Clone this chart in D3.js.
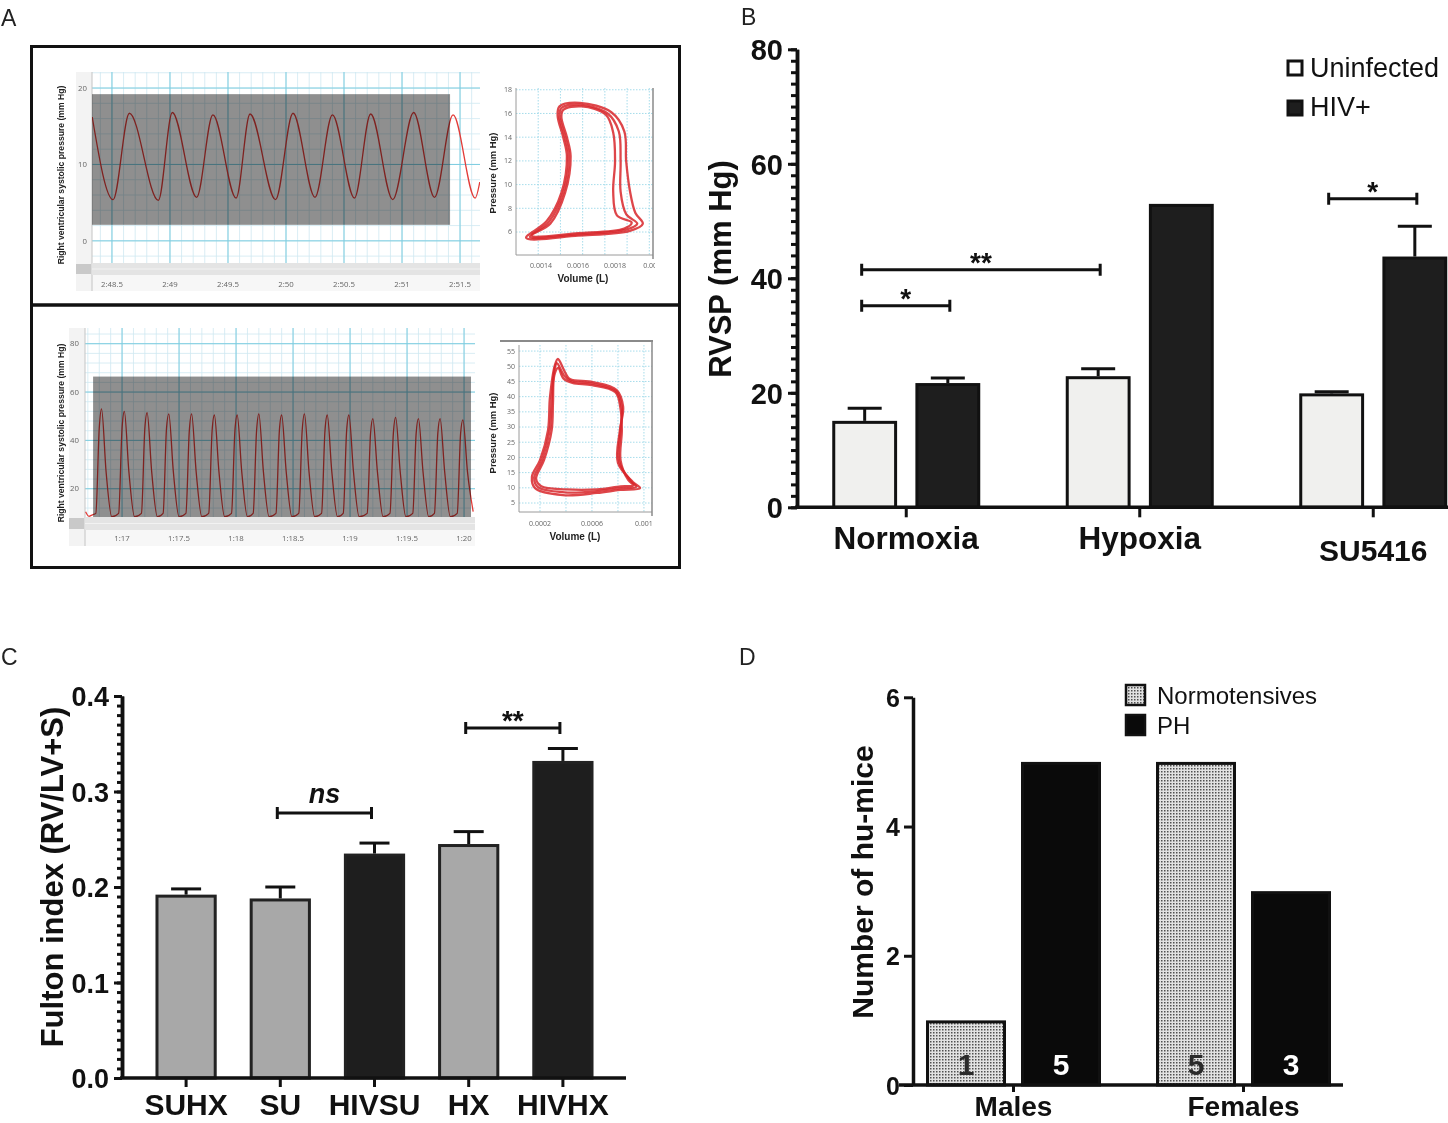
<!DOCTYPE html>
<html>
<head>
<meta charset="utf-8">
<script src="https://cdn.jsdelivr.net/npm/d3@7"></script>
<style>
    body { margin: 0; background: #fff; }
    svg { display: block; font-family: "Liberation Sans", Arial, sans-serif; }
    .bold-axis .domain { stroke: #111; stroke-width: 3.5; }
    .bold-axis line { stroke: #111; stroke-width: 3; }
    .bold-axis text { font-weight: bold; fill: #111; }
    .small { font-family: "Open Sans", "DejaVu Sans", sans-serif; fill: #666; }
</style>
</head>
<body>
<script>
// ---------- panel A : pressure traces (time s, mmHg) ----------
const topTimeTicks = [168.5, 169, 169.5, 170, 170.5, 171, 171.5];
const topPressureTicks = [0, 10, 20];
const topTrace = [
    [168.33, 16.2], [168.51, 5.4], [168.65, 16.7], [168.90, 5.3], [169.02, 16.8],
    [169.23, 5.7], [169.37, 16.5], [169.57, 5.6], [169.69, 16.6], [169.91, 5.4],
    [170.06, 16.7], [170.25, 5.7], [170.40, 16.5], [170.59, 5.6], [170.73, 16.6],
    [170.92, 5.4], [171.10, 16.8], [171.28, 5.7], [171.44, 16.5], [171.63, 5.6],
    [171.67, 7.7]
];

const bottomTimeTicks = [77, 77.5, 78, 78.5, 79, 79.5, 80];
const bottomPressureTicks = [20, 40, 60, 80];
const bottomTrace = [
    [76.68, 10.5], [76.71, 8.6], [76.74, 9.2],
    [76.77, 9.8], [76.80, 45], [76.82, 53], [76.86, 27], [76.91, 8.4],
    [76.97, 9.8], [77.00, 45], [77.02, 52], [77.06, 27], [77.11, 8.4],
    [77.17, 9.8], [77.20, 45], [77.22, 51.5], [77.26, 27], [77.31, 8.4],
    [77.36, 9.8], [77.39, 45], [77.41, 51], [77.45, 27], [77.50, 8.4],
    [77.56, 9.8], [77.59, 44], [77.61, 51], [77.65, 27], [77.70, 8.4],
    [77.76, 9.8], [77.79, 44], [77.81, 50.5], [77.85, 27], [77.90, 8.4],
    [77.96, 9.8], [77.99, 44], [78.01, 50.5], [78.05, 27], [78.10, 8.4],
    [78.15, 9.8], [78.18, 44], [78.20, 51], [78.24, 27], [78.29, 8.4],
    [78.35, 9.8], [78.38, 44], [78.40, 50.5], [78.44, 27], [78.49, 8.4],
    [78.55, 9.8], [78.58, 44], [78.60, 51], [78.64, 27], [78.69, 8.4],
    [78.75, 9.8], [78.78, 44], [78.80, 50.5], [78.84, 27], [78.89, 8.4],
    [78.94, 9.8], [78.97, 44], [78.99, 50.5], [79.03, 27], [79.08, 8.4],
    [79.15, 9.8], [79.18, 43], [79.20, 49], [79.24, 27], [79.29, 8.4],
    [79.35, 9.8], [79.38, 43], [79.40, 49.5], [79.44, 27], [79.49, 8.4],
    [79.55, 9.8], [79.58, 43], [79.60, 49], [79.64, 27], [79.69, 8.4],
    [79.74, 9.8], [79.77, 43], [79.79, 49], [79.83, 27], [79.88, 8.4],
    [79.94, 9.8], [79.97, 43], [79.99, 48.5], [80.03, 27], [80.08, 10.5]
];

// ---------- panel A : pressure-volume loops (L, mmHg) ----------
const pvTopPressureTicks = [6, 8, 10, 12, 14, 16, 18];
const pvTopVolumeTicks = [0.0014, 0.0016, 0.0018, 0.002];
const pvTopLoops = [
    [[0.00132, 5.5], [0.0016, 5.7], [0.00188, 6.1], [0.00195, 6.7], [0.00191, 7.6],
     [0.00188, 9.5], [0.00186, 12], [0.00185, 14.5], [0.00178, 16.1], [0.00161, 16.9],
     [0.0015, 16.6], [0.00149, 15.8], [0.00152, 14], [0.00154, 12.4], [0.00151, 9.3],
     [0.00143, 6.9]],
    [[0.00135, 5.7], [0.0016, 5.9], [0.00185, 6.3], [0.00189, 6.8], [0.00181, 7.4],
     [0.00179, 9.4], [0.0018, 12], [0.00179, 14.4], [0.00175, 15.9], [0.00162, 16.6],
     [0.00152, 16.3], [0.00151, 15.7], [0.00154, 14], [0.00156, 12.4], [0.00153, 9.3],
     [0.00145, 6.7]],
    [[0.00134, 5.6], [0.0016, 5.8], [0.00186, 6.2], [0.00192, 6.7], [0.00186, 7.5],
     [0.00183, 9.4], [0.00183, 12], [0.00182, 14.5], [0.00176, 16.0], [0.00161, 16.75],
     [0.00151, 16.45], [0.0015, 15.75], [0.00153, 14], [0.00155, 12.4], [0.00152, 9.3],
     [0.00144, 6.8]]
];

const pvBottomPressureTicks = [5, 10, 15, 20, 25, 30, 35, 40, 45, 50, 55];
const pvBottomVolumeTicks = [0.0002, 0.0006, 0.001];
const pvBottomLoops = [
    [[0.000338, 52.4], [0.000315, 50.4], [0.000277, 39.9], [0.000262, 29], [0.0002, 19.1],
     [0.000138, 13.6], [0.000162, 9.9], [0.000377, 7.6], [0.000638, 8.3], [0.000815, 9.3],
     [0.00097, 9.9], [0.000915, 11.9], [0.0008, 18.2], [0.000815, 29], [0.00084, 36.6],
     [0.00079, 42.2], [0.000608, 44.8], [0.00043, 45.8], [0.000392, 48.1]],
    [[0.00034, 49.5], [0.00031, 47], [0.0003, 38], [0.00029, 29], [0.00023, 19],
     [0.00017, 13], [0.00021, 10.5], [0.0004, 9.5], [0.00064, 9.5], [0.00082, 10.5],
     [0.00092, 10.8], [0.00088, 12.5], [0.00082, 19], [0.00083, 29], [0.00082, 36],
     [0.00078, 41.5], [0.0006, 43.8], [0.00045, 44.5], [0.00038, 46]],
    [[0.00033, 51], [0.00031, 48.5], [0.00029, 39], [0.000275, 29], [0.000215, 19],
     [0.000155, 13.3], [0.000185, 10.2], [0.00039, 8.5], [0.00064, 8.9], [0.00082, 9.9],
     [0.00094, 10.3], [0.0009, 12.2], [0.00081, 18.6], [0.00082, 29], [0.00083, 36.3],
     [0.000785, 41.8], [0.000604, 44.3], [0.00044, 45.1], [0.000385, 47]]
];

// ---------- panel B : RVSP ----------
const rvspGroups = ["Normoxia", "Hypoxia", "SU5416"];
const rvspSeries = ["Uninfected", "HIV+"];
const rvspUninfected = [15.1, 22.9, 19.9];
const rvspUninfectedErr = [2.2, 1.3, 0.3];
const rvspHiv = [21.7, 53.0, 43.8];
const rvspHivErr = [0.9, 0, 5.3];
const rvspTicks = [0, 20, 40, 60, 80];
const rvspBrackets = [
    { a: ["Normoxia", "Uninfected"], b: ["Normoxia", "HIV+"], y: 35.2, label: "*" },
    { a: ["Normoxia", "Uninfected"], b: ["Hypoxia", "Uninfected"], y: 41.5, label: "**" },
    { a: ["SU5416", "Uninfected"], b: ["SU5416", "HIV+"], y: 53.9, label: "*" }
];

// ---------- panel C : Fulton index ----------
const fultonGroups = ["SUHX", "SU", "HIVSU", "HX", "HIVHX"];
const fultonValues = [0.192, 0.188, 0.235, 0.245, 0.332];
const fultonErr = [0.006, 0.012, 0.011, 0.013, 0.013];
const fultonHiv = [false, false, true, false, true];
const fultonTicks = [0, 0.1, 0.2, 0.3, 0.4];
const fultonBrackets = [
    { a: "SU", b: "HIVSU", y: 0.2775, label: "ns" },
    { a: "HX", b: "HIVHX", y: 0.3665, label: "**" }
];

// ---------- panel D : hu-mice counts ----------
const sexGroups = ["Males", "Females"];
const miceSeries = ["Normotensives", "PH"];
const normotensives = [1, 5];
const ph = [5, 3];
const miceTicks = [0, 2, 4, 6];

const svg = d3.select("body").append("svg")
    .attr("width", 1448)
    .attr("height", 1123);
const defs = svg.append("defs");

// stipple fill for normotensives
const stipple = defs.append("pattern")
    .attr("id", "stipple")
    .attr("width", 3).attr("height", 3)
    .attr("patternUnits", "userSpaceOnUse");
stipple.append("rect").attr("width", 3).attr("height", 3).attr("fill", "#e2e2e2");
stipple.append("rect").attr("width", 1.5).attr("height", 1.5).attr("fill", "#505050");

// panel letters
[["A", 1, 26], ["B", 741, 25], ["C", 1, 665], ["D", 739, 665]].forEach(function (p) {
    svg.append("text").attr("x", p[1]).attr("y", p[2])
        .attr("font-size", 23).attr("fill", "#222").text(p[0]);
});

function fmtTime(t) {
    const m = Math.floor(t / 60);
    const s = +(t - m * 60).toFixed(1);
    return m + ":" + (s < 10 ? "0" : "") + (Number.isInteger(s) ? s : s.toFixed(1));
}

function drawTrace(cfg, id) {
    const g = svg.append("g");
    const x = d3.scaleLinear().domain(cfg.tDomain).range(cfg.xRange);
    const y = d3.scaleLinear().domain(cfg.pDomain).range(cfg.yRange);
    const x0 = cfg.xRange[0], x1 = cfg.xRange[1], yb = cfg.yRange[0], yt = cfg.yRange[1];

    defs.append("clipPath").attr("id", id)
        .append("rect").attr("x", x0).attr("y", yt).attr("width", x1 - x0).attr("height", yb - yt);

    // axis strips
    g.append("rect").attr("x", x0 - 16).attr("y", yt).attr("width", 16)
        .attr("height", yb - yt + cfg.scrollH + 16).attr("fill", "#f3f3f3");
    g.append("rect").attr("x", x0).attr("y", yb + cfg.scrollH).attr("width", x1 - x0)
        .attr("height", 16).attr("fill", "#f7f7f7");

    const grid = g.append("g").attr("clip-path", "url(#" + id + ")");
    grid.selectAll(".vmin").data(cfg.tMinor).join("line")
        .attr("x1", d => x(d)).attr("x2", d => x(d)).attr("y1", yt).attr("y2", yb)
        .attr("stroke", "#cfe9f1").attr("stroke-width", 0.8);
    grid.selectAll(".hmin").data(cfg.pMinor).join("line")
        .attr("y1", d => y(d)).attr("y2", d => y(d)).attr("x1", x0).attr("x2", x1)
        .attr("stroke", "#cfe9f1").attr("stroke-width", 0.8);
    grid.selectAll(".vmaj").data(cfg.tMajor).join("line")
        .attr("x1", d => x(d)).attr("x2", d => x(d)).attr("y1", yt).attr("y2", yb)
        .attr("stroke", "#7ccde0").attr("stroke-width", 1);
    grid.selectAll(".hmaj").data(cfg.pMajor).join("line")
        .attr("y1", d => y(d)).attr("y2", d => y(d)).attr("x1", x0).attr("x2", x1)
        .attr("stroke", "#7ccde0").attr("stroke-width", 1);

    g.append("line").attr("x1", x0).attr("x2", x0).attr("y1", yt).attr("y2", yb + cfg.scrollH + 16)
        .attr("stroke", "#c4c4c4");

    g.append("path").datum(cfg.trace)
        .attr("clip-path", "url(#" + id + ")")
        .attr("fill", "none").attr("stroke", "#e23c38").attr("stroke-width", 1.3)
        .attr("d", d3.line().x(d => x(d[0])).y(d => y(d[1])).curve(d3.curveMonotoneX));

    // selected region (multiplied over grid and trace)
    g.append("rect")
        .attr("x", x(cfg.sel[0])).attr("y", y(cfg.sel[3]))
        .attr("width", x(cfg.sel[1]) - x(cfg.sel[0]))
        .attr("height", y(cfg.sel[2]) - y(cfg.sel[3]))
        .attr("fill", "#8f8f8f").style("mix-blend-mode", "multiply");

    // scrollbar
    g.append("rect").attr("x", x0).attr("y", yb).attr("width", x1 - x0).attr("height", cfg.scrollH)
        .attr("fill", "#e4e4e4");
    g.append("line").attr("x1", x0).attr("x2", x1).attr("y1", yb + cfg.scrollH / 2).attr("y2", yb + cfg.scrollH / 2)
        .attr("stroke", "#f2f2f2").attr("stroke-width", 1);
    g.append("rect").attr("x", x0 - 16).attr("y", yb + 1).attr("width", 15).attr("height", cfg.scrollH - 2)
        .attr("fill", "#c9c9c9");

    g.selectAll(".ylab").data(cfg.pMajor).join("text")
        .attr("class", "small").attr("font-size", 7.8)
        .attr("x", cfg.labelX).attr("y", d => y(d)).attr("dy", "0.35em")
        .attr("text-anchor", "end").text(d => d);
    g.selectAll(".xlab").data(cfg.tMajor).join("text")
        .attr("class", "small").attr("font-size", 7.8)
        .attr("x", d => x(d)).attr("y", cfg.labelY)
        .attr("text-anchor", "middle").text(fmtTime);

    g.append("text")
        .attr("transform", "translate(" + cfg.titleX + "," + cfg.titleY + ") rotate(-90)")
        .attr("text-anchor", "middle").attr("font-size", 8.6).attr("font-weight", "bold")
        .attr("fill", "#222").text("Right ventricular systolic pressure (mm Hg)");
}

function drawPV(cfg, id) {
    const g = svg.append("g");
    const x = d3.scaleLinear().domain(cfg.vDomain).range(cfg.xRange);
    const y = d3.scaleLinear().domain(cfg.pDomain).range(cfg.yRange);
    const x0 = cfg.xRange[0], x1 = cfg.xRange[1], yb = cfg.yRange[0], yt = cfg.yRange[1];

    defs.append("clipPath").attr("id", id)
        .append("rect").attr("x", x0 - 40).attr("y", yt - 10).attr("width", x1 - x0 + 42).attr("height", yb - yt + 30);

    g.selectAll(".hg").data(cfg.pTicks).join("line")
        .attr("x1", x0).attr("x2", x1).attr("y1", d => y(d)).attr("y2", d => y(d))
        .attr("stroke", "#8fd3e6").attr("stroke-width", 0.8).attr("stroke-dasharray", "1.5,1.5");
    g.selectAll(".vg").data(cfg.vGrid).join("line")
        .attr("x1", d => x(d)).attr("x2", d => x(d)).attr("y1", yt).attr("y2", yb)
        .attr("stroke", "#8fd3e6").attr("stroke-width", 0.8).attr("stroke-dasharray", "1.5,1.5");

    g.append("path").attr("fill", "none").attr("stroke", "#9a9a9a").attr("stroke-width", 1)
        .attr("d", "M" + x0 + "," + yt + "V" + yb + "H" + x1);
    g.append("line").attr("x1", x1).attr("x2", x1).attr("y1", cfg.frameTop).attr("y2", yb + 4)
        .attr("stroke", "#8a8a8a").attr("stroke-width", 1.5);

    const line = d3.line().x(d => x(d[0])).y(d => y(d[1])).curve(d3.curveCatmullRomClosed.alpha(0.5));
    g.selectAll(".loop").data(cfg.loops).join("path")
        .attr("fill", "none").attr("stroke", "#d8262a").attr("stroke-width", 2.3)
        .attr("stroke-opacity", 0.85).attr("d", line);

    g.selectAll(".yl").data(cfg.pTicks).join("text")
        .attr("class", "small").attr("font-size", 7)
        .attr("x", x0 - 4).attr("y", d => y(d)).attr("dy", "0.35em")
        .attr("text-anchor", "end").text(d => d);
    g.append("g").attr("clip-path", "url(#" + id + ")")
        .selectAll(".xl").data(cfg.vTicks).join("text")
        .attr("class", "small").attr("font-size", 7)
        .attr("x", d => x(d)).attr("y", cfg.xLabelY)
        .attr("text-anchor", "middle").text(d => String(d));

    g.append("text")
        .attr("transform", "translate(" + cfg.pTitle[0] + "," + cfg.pTitle[1] + ") rotate(-90)")
        .attr("text-anchor", "middle").attr("font-size", 9.4).attr("font-weight", "bold")
        .attr("fill", "#222").text("Pressure (mm Hg)");
    g.append("text").attr("x", cfg.vTitle[0]).attr("y", cfg.vTitle[1])
        .attr("text-anchor", "middle").attr("font-size", 10).attr("font-weight", "bold")
        .attr("fill", "#222").text("Volume (L)");
}

// ----- panel A -----
drawTrace({
    tDomain: [168.328, 171.672], xRange: [92, 480],
    pDomain: [-2.9, 22.1], yRange: [263, 72],
    tMinor: d3.range(168.4, 171.65, 0.1), pMinor: d3.range(-2, 23, 2),
    tMajor: topTimeTicks, pMajor: topPressureTicks,
    sel: [168.328, 171.414, 2.1, 19.2], trace: topTrace,
    scrollH: 12, labelX: 87, labelY: 287, titleX: 64, titleY: 175
}, "clipTop");

drawTrace({
    tDomain: [76.675, 80.096], xRange: [85, 475],
    pDomain: [8.3, 86.5], yRange: [517, 328],
    tMinor: d3.range(76.7, 80.1, 0.1), pMinor: d3.range(12, 87, 4),
    tMajor: bottomTimeTicks, pMajor: bottomPressureTicks,
    sel: [76.746, 80.061, 8.3, 66.4], trace: bottomTrace,
    scrollH: 13, labelX: 79, labelY: 541, titleX: 64, titleY: 433
}, "clipBottom");

drawPV({
    vDomain: [0.001265, 0.002005], xRange: [516, 653],
    pDomain: [4.06, 18.15], yRange: [255, 88],
    pTicks: pvTopPressureTicks, vTicks: pvTopVolumeTicks,
    vGrid: d3.range(0.001385, 0.00199, 0.00012), loops: pvTopLoops,
    frameTop: 88, xLabelY: 268, pTitle: [496, 173], vTitle: [583, 282]
}, "clipPvTop");

drawPV({
    vDomain: [0.0000385, 0.001062], xRange: [519, 652],
    pDomain: [2.04, 57], yRange: [512, 345],
    pTicks: pvBottomPressureTicks, vTicks: pvBottomVolumeTicks,
    vGrid: [0.0002, 0.0004, 0.0006, 0.0008, 0.001], loops: pvBottomLoops,
    frameTop: 341, xLabelY: 526, pTitle: [496, 433], vTitle: [575, 540]
}, "clipPvBottom");

svg.append("line").attr("x1", 500).attr("x2", 653).attr("y1", 341).attr("y2", 341)
    .attr("stroke", "#8a8a8a").attr("stroke-width", 2);

svg.append("rect").attr("x", 31.5).attr("y", 46.5).attr("width", 648).attr("height", 258.5)
    .attr("fill", "none").attr("stroke", "#111").attr("stroke-width", 3);
svg.append("rect").attr("x", 31.5).attr("y", 305).attr("width", 648).attr("height", 262.5)
    .attr("fill", "none").attr("stroke", "#111").attr("stroke-width", 3);

// shared helpers for the bar panels
function errorBar(g, cx, yTop, yErr, half) {
    g.append("line").attr("x1", cx).attr("x2", cx).attr("y1", yTop).attr("y2", yErr)
        .attr("stroke", "#111").attr("stroke-width", 3);
    g.append("line").attr("x1", cx - half).attr("x2", cx + half).attr("y1", yErr).attr("y2", yErr)
        .attr("stroke", "#111").attr("stroke-width", 3);
}

function bracket(g, xa, xb, yy, label, size, italic, dy) {
    g.append("path").attr("fill", "none").attr("stroke", "#111").attr("stroke-width", 3)
        .attr("d", "M" + xa + "," + (yy - 6) + "V" + (yy + 6) + "M" + xa + "," + yy + "H" + xb +
            "M" + xb + "," + (yy - 6) + "V" + (yy + 6));
    g.append("text").attr("x", (xa + xb) / 2).attr("y", yy + dy)
        .attr("text-anchor", "middle").attr("font-size", size).attr("font-weight", "bold")
        .attr("font-style", italic ? "italic" : "normal").attr("fill", "#111").text(label);
}

// ----- panel B -----
const gB = svg.append("g");
const xB = d3.scaleBand().domain(rvspGroups).range([789.5, 1490]);
const xBin = d3.scaleBand().domain(rvspSeries).range([-74, 74]).paddingInner(0.22);
const yB = d3.scaleLinear().domain([0, 80]).range([507.3, 49.3]);
const rvspRows = rvspGroups.flatMap((g, i) => [
    { g: g, s: "Uninfected", v: rvspUninfected[i], e: rvspUninfectedErr[i] },
    { g: g, s: "HIV+", v: rvspHiv[i], e: rvspHivErr[i] }
]);
const cxB = (g, s) => xB(g) + xB.bandwidth() / 2 + xBin(s) + xBin.bandwidth() / 2;

rvspRows.forEach(function (d) {
    if (d.e > 0) errorBar(gB, cxB(d.g, d.s), yB(d.v), yB(d.v + d.e), 17);
});
gB.selectAll(".bar").data(rvspRows).join("rect")
    .attr("x", d => cxB(d.g, d.s) - xBin.bandwidth() / 2 + 1.5)
    .attr("width", xBin.bandwidth() - 3)
    .attr("y", d => yB(d.v) + 1.5)
    .attr("height", d => yB(0) - yB(d.v) - 1.5)
    .attr("fill", d => d.s === "Uninfected" ? "#f0f0ee" : "#1e1e1e")
    .attr("stroke", "#111").attr("stroke-width", 3);

gB.append("g").attr("class", "bold-axis").attr("transform", "translate(797,0)")
    .call(d3.axisLeft(yB).tickValues(d3.range(0, 81, 2)).tickSize(6).tickSizeOuter(0).tickFormat(""));
gB.append("g").attr("class", "bold-axis").attr("transform", "translate(797,0)")
    .call(d3.axisLeft(yB).tickValues(rvspTicks).tickSize(9).tickSizeOuter(0).tickPadding(5).tickFormat(d3.format("d")))
    .call(g => g.selectAll("text").attr("font-size", 29).attr("dy", "0.36em"));
gB.append("line").attr("x1", 795).attr("x2", 1448).attr("y1", yB(0)).attr("y2", yB(0))
    .attr("stroke", "#111").attr("stroke-width", 3.5);
gB.selectAll(".xt").data(rvspGroups).join("line")
    .attr("x1", d => xB(d) + xB.bandwidth() / 2).attr("x2", d => xB(d) + xB.bandwidth() / 2)
    .attr("y1", yB(0)).attr("y2", yB(0) + 10).attr("stroke", "#111").attr("stroke-width", 3);
gB.selectAll(".xl").data(rvspGroups).join("text")
    .attr("x", d => xB(d) + xB.bandwidth() / 2)
    .attr("y", d => d === "SU5416" ? 561 : 549)
    .attr("text-anchor", "middle").attr("font-weight", "bold")
    .attr("font-size", d => d === "SU5416" ? 30 : 31.5).attr("fill", "#111").text(d => d);
gB.append("text").attr("transform", "translate(731,269) rotate(-90)")
    .attr("text-anchor", "middle").attr("font-size", 31).attr("font-weight", "bold")
    .attr("fill", "#111").text("RVSP (mm Hg)");

rvspBrackets.forEach(function (b) {
    bracket(gB, cxB(b.a[0], b.a[1]) - 3, cxB(b.b[0], b.b[1]) + 2, yB(b.y), b.label, 28, false, 2);
});

rvspSeries.forEach(function (s, i) {
    gB.append("rect").attr("x", 1288).attr("y", 61 + i * 40).attr("width", 14).attr("height", 14)
        .attr("fill", s === "Uninfected" ? "#fff" : "#1e1e1e")
        .attr("stroke", "#111").attr("stroke-width", 3);
    gB.append("text").attr("x", 1310).attr("y", 77 + i * 39)
        .attr("font-size", 27).attr("fill", "#111").text(s);
});

// ----- panel C -----
const gC = svg.append("g");
const xC = d3.scaleBand().domain(fultonGroups).range([139, 610]).paddingInner(0.35).paddingOuter(0.175);
const yC = d3.scaleLinear().domain([0, 0.4]).range([1078, 696]);
const fultonRows = fultonGroups.map((g, i) => ({ g: g, v: fultonValues[i], e: fultonErr[i], hiv: fultonHiv[i] }));
const cxC = g => xC(g) + xC.bandwidth() / 2;

fultonRows.forEach(d => errorBar(gC, cxC(d.g), yC(d.v), yC(d.v + d.e), 15));
gC.selectAll(".bar").data(fultonRows).join("rect")
    .attr("x", d => xC(d.g) + 1.5).attr("width", xC.bandwidth() - 3)
    .attr("y", d => yC(d.v) + 1.5).attr("height", d => yC(0) - yC(d.v) - 1.5)
    .attr("fill", d => d.hiv ? "#1e1e1e" : "#a8a8a8")
    .attr("stroke", "#222").attr("stroke-width", 3);

gC.append("g").attr("class", "bold-axis").attr("transform", "translate(122,0)")
    .call(d3.axisLeft(yC).tickValues(d3.range(0, 0.401, 0.01)).tickSize(5).tickSizeOuter(0).tickFormat(""));
gC.append("g").attr("class", "bold-axis").attr("transform", "translate(122,0)")
    .call(d3.axisLeft(yC).tickValues(fultonTicks).tickSize(8).tickSizeOuter(0).tickPadding(5).tickFormat(d3.format(".1f")))
    .call(g => g.selectAll("text").attr("font-size", 27).attr("dy", "0.36em"));
gC.append("line").attr("x1", 120).attr("x2", 626).attr("y1", yC(0)).attr("y2", yC(0))
    .attr("stroke", "#111").attr("stroke-width", 3.5);
gC.selectAll(".xt").data(fultonGroups).join("line")
    .attr("x1", cxC).attr("x2", cxC).attr("y1", yC(0)).attr("y2", yC(0) + 9)
    .attr("stroke", "#111").attr("stroke-width", 3);
gC.selectAll(".xl").data(fultonGroups).join("text")
    .attr("x", cxC).attr("y", 1115).attr("text-anchor", "middle")
    .attr("font-size", 30).attr("font-weight", "bold").attr("fill", "#111").text(d => d);
gC.append("text").attr("transform", "translate(63,877) rotate(-90)")
    .attr("text-anchor", "middle").attr("font-size", 31).attr("font-weight", "bold")
    .attr("fill", "#111").text("Fulton index (RV/LV+S)");

fultonBrackets.forEach(function (b) {
    const ns = b.label === "ns";
    bracket(gC, cxC(b.a) - 3, cxC(b.b) - 3, yC(b.y), b.label, ns ? 27 : 28, ns, ns ? -10 : 2);
});

// ----- panel D -----
const gD = svg.append("g");
const xD = d3.scaleBand().domain(sexGroups).range([898.5, 1358.5]);
const xDin = d3.scaleBand().domain(miceSeries).range([-87.5, 87.5]).paddingInner(0.158);
const yD = d3.scaleLinear().domain([0, 6]).range([1085, 697.3]);
const miceRows = sexGroups.flatMap((g, i) => [
    { g: g, s: "Normotensives", v: normotensives[i] },
    { g: g, s: "PH", v: ph[i] }
]);
const cxD = (g, s) => xD(g) + xD.bandwidth() / 2 + xDin(s) + xDin.bandwidth() / 2;

gD.selectAll(".bar").data(miceRows).join("rect")
    .attr("x", d => cxD(d.g, d.s) - xDin.bandwidth() / 2 + 1.5)
    .attr("width", xDin.bandwidth() - 3)
    .attr("y", d => yD(d.v) + 1.5).attr("height", d => yD(0) - yD(d.v) - 1.5)
    .attr("fill", d => d.s === "PH" ? "#0a0a0a" : "url(#stipple)")
    .attr("stroke", "#111").attr("stroke-width", 3);
gD.selectAll(".num").data(miceRows).join("text")
    .attr("x", d => cxD(d.g, d.s)).attr("y", 1075).attr("text-anchor", "middle")
    .attr("font-size", 30).attr("font-weight", "bold")
    .attr("fill", d => d.s === "PH" ? "#fff" : "#2a2a2a").text(d => d.v);

gD.append("g").attr("class", "bold-axis").attr("transform", "translate(913,0)")
    .call(d3.axisLeft(yD).tickValues(miceTicks).tickSize(9).tickSizeOuter(0).tickPadding(4).tickFormat(d3.format("d")))
    .call(g => g.selectAll("text").attr("font-size", 25).attr("dy", "0.36em"));
gD.append("line").attr("x1", 899).attr("x2", 1343).attr("y1", yD(0)).attr("y2", yD(0))
    .attr("stroke", "#111").attr("stroke-width", 3.5);
gD.selectAll(".xt").data(sexGroups).join("line")
    .attr("x1", d => xD(d) + xD.bandwidth() / 2).attr("x2", d => xD(d) + xD.bandwidth() / 2)
    .attr("y1", yD(0)).attr("y2", yD(0) + 7).attr("stroke", "#111").attr("stroke-width", 3);
gD.selectAll(".xl").data(sexGroups).join("text")
    .attr("x", d => xD(d) + xD.bandwidth() / 2).attr("y", 1116).attr("text-anchor", "middle")
    .attr("font-size", 28).attr("font-weight", "bold").attr("fill", "#111").text(d => d);
gD.append("text").attr("transform", "translate(873,882) rotate(-90)")
    .attr("text-anchor", "middle").attr("font-size", 30).attr("font-weight", "bold")
    .attr("fill", "#111").text("Number of hu-mice");

miceSeries.forEach(function (s, i) {
    gD.append("rect").attr("x", 1126).attr("y", 685 + i * 30).attr("width", 19).attr("height", 20)
        .attr("fill", s === "PH" ? "#0a0a0a" : "url(#stipple)")
        .attr("stroke", "#111").attr("stroke-width", 2.5);
    gD.append("text").attr("x", 1157).attr("y", 704 + i * 30)
        .attr("font-size", 24).attr("fill", "#111").text(s);
});
</script>
</body>
</html>
